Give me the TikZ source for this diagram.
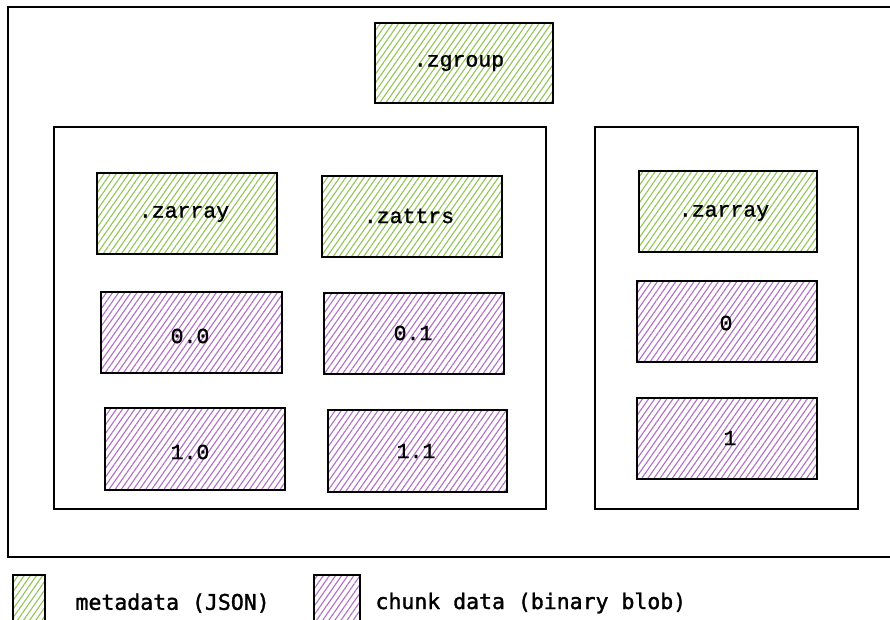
\documentclass[tikz,border=0pt]{standalone}
\usepackage{fontspec}
\setmonofont[FakeBold=1.2]{Liberation Mono}
\newfontfamily\legendfont[FakeBold=1.5]{DejaVu Sans Mono}
\usetikzlibrary{patterns.meta}
\definecolor{metagreen}{HTML}{92C556}
\definecolor{chunkpurple}{HTML}{B06EC6}
\tikzset{
  box/.style={draw=black, line width=1.3pt, inner sep=0pt},
  hatch/.style={pattern={Lines[angle=55,distance=5pt,line width=1.1pt]}},
  meta/.style={box, hatch, pattern color=metagreen},
  chunk/.style={box, hatch, pattern color=chunkpurple},
  lbl/.style={font=\ttfamily\fontsize{21.5}{25}\selectfont},
  legendtxt/.style={font=\legendfont\fontsize{21.5}{25}\selectfont, anchor=west},
  group/.style={draw=black, line width=1.1pt},
}
\begin{document}
\begin{tikzpicture}[x=1pt,y=-1pt]
\useasboundingbox (0,0) rectangle (890,619);
\fill[white] (0,0) rectangle (890,619);

% root group and its sub-groups
\draw[group] (900,7) -- (8,7) -- (8,557) -- (900,557);
\draw[group] (54,127) rectangle (546,509);
\draw[group] (595,127) rectangle (858,509);

% metadata files
\draw[meta] (375,23) rectangle (553,103);
\node[lbl] (zgroup) at (459,63) {.zgroup};
\draw[meta] (97,173) rectangle (277,254);
\node[lbl] (zarrayA) at (184,214) {.zarray};
\draw[meta] (322,176) rectangle (502,257);
\node[lbl] (zattrs) at (409,216) {.zattrs};
\draw[meta] (639,171) rectangle (817,252);
\node[lbl] (zarrayB) at (724,213) {.zarray};

% chunk files
\draw[chunk] (101,292) rectangle (282,373);
\node[lbl] (c00) at (190,336) {0.0};
\draw[chunk] (324,293) rectangle (504,374);
\node[lbl] (c01) at (413,333) {0.1};
\draw[chunk] (105,408) rectangle (285,490);
\node[lbl] (c10) at (190,452) {1.0};
\draw[chunk] (328,410) rectangle (507,492);
\node[lbl] (c11) at (416,451) {1.1};
\draw[chunk] (637,281) rectangle (817,362);
\node[lbl] (c0) at (726,323) {0};
\draw[chunk] (637,398) rectangle (817,479);
\node[lbl] (c1) at (730,438) {1};

% legend
\draw[meta] (13,575) rectangle (45,630);
\node[legendtxt] (legmeta) at (72,603) {metadata (JSON)};
\draw[chunk] (314,575) rectangle (360,630);
\node[legendtxt] (legchunk) at (372,603) {chunk data (binary blob)};
\end{tikzpicture}
\end{document}
